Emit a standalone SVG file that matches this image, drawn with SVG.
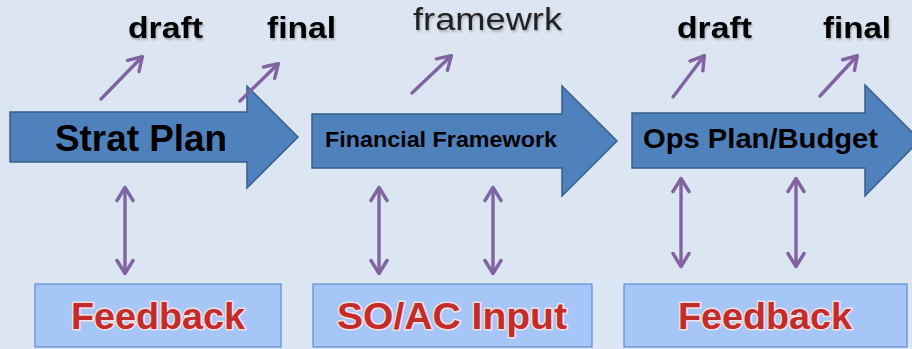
<svg xmlns="http://www.w3.org/2000/svg" width="912" height="349" viewBox="0 0 912 349">
<defs>
<marker id="oa" viewBox="0 0 20 20" refX="15.5" refY="10" markerWidth="20" markerHeight="20" markerUnits="userSpaceOnUse" orient="auto-start-reverse">
<polyline points="3,2 16,10 3,18" fill="none" stroke="#8064a2" stroke-width="3.4" stroke-linecap="round" stroke-linejoin="round"/>
</marker>
<filter id="sh" x="-10%" y="-20%" width="120%" height="140%">
<feGaussianBlur in="SourceAlpha" stdDeviation="1.2"/>
<feOffset dx="1" dy="1.5" result="b"/>
<feFlood flood-color="#000" flood-opacity="0.25"/>
<feComposite in2="b" operator="in"/>
<feMerge><feMergeNode/><feMergeNode in="SourceGraphic"/></feMerge>
</filter>
</defs>
<style>
.bg{fill:#dce6f2}
.stage{fill:#4f81bd;stroke:#385d8a;stroke-width:1.5}
.box{fill:#a6c6f8;stroke:#5b8fd0;stroke-width:1.2}
.lbl{font-family:"Liberation Sans",Arial,sans-serif;font-weight:bold;fill:#000}
.out{font-family:"Liberation Sans",Arial,sans-serif;font-weight:bold;fill:#000;font-size:30px}
.fw{font-family:"Liberation Sans",Arial,sans-serif;font-weight:normal;fill:#222;font-size:31px}
.red{font-family:"Liberation Sans",Arial,sans-serif;font-weight:bold;font-size:37.7px;fill:#c42b2b;stroke:#f3e2e2;stroke-width:3;paint-order:stroke;stroke-linejoin:round}
.conn{stroke:#8064a2;stroke-width:3.4;fill:none;stroke-linecap:round}
</style>
<rect class="bg" x="0" y="0" width="912" height="349"/>

<g id="strat-plan">
<polygon class="stage" points="10,112 247,112 247,86 298,137 247,188 247,162 10,162"/>
<text class="lbl" x="55" y="151" font-size="37" textLength="172" lengthAdjust="spacingAndGlyphs">Strat Plan</text>
</g>
<g id="financial-framework">
<polygon class="stage" points="312,114 562,114 562,86 617,141 562,196 562,168 312,168"/>
<text class="lbl" x="325" y="147" font-size="22" textLength="232" lengthAdjust="spacingAndGlyphs">Financial Framework</text>
</g>
<g id="ops-plan">
<polygon class="stage" points="632,113 865,113 865,85 920,140 865,196 865,168 632,168"/>
<text class="lbl" x="643" y="148" font-size="28" textLength="235" lengthAdjust="spacingAndGlyphs">Ops Plan/Budget</text>
</g>

<g id="out-draft-1"><text class="out" x="128" y="38" textLength="75" lengthAdjust="spacingAndGlyphs" filter="url(#sh)">draft</text></g>
<g id="out-final-1"><text class="out" x="267" y="38" textLength="69" lengthAdjust="spacingAndGlyphs" filter="url(#sh)">final</text></g>
<g id="out-framewrk"><text class="fw" x="413" y="30" textLength="149" lengthAdjust="spacingAndGlyphs" filter="url(#sh)">framewrk</text></g>
<g id="out-draft-2"><text class="out" x="677" y="38" textLength="75" lengthAdjust="spacingAndGlyphs" filter="url(#sh)">draft</text></g>
<g id="out-final-2"><text class="out" x="823" y="38" textLength="68" lengthAdjust="spacingAndGlyphs" filter="url(#sh)">final</text></g>

<g id="feedback-1">
<rect class="box" x="35" y="284" width="246" height="63"/>
<text class="red" x="71" y="329" textLength="174" lengthAdjust="spacingAndGlyphs">Feedback</text>
</g>
<g id="so-ac-input">
<rect class="box" x="313" y="284" width="279" height="63"/>
<text class="red" x="337" y="329" textLength="230" lengthAdjust="spacingAndGlyphs">SO/AC Input</text>
</g>
<g id="feedback-2">
<rect class="box" x="624" y="284" width="283" height="63"/>
<text class="red" x="678" y="329" textLength="174" lengthAdjust="spacingAndGlyphs">Feedback</text>
</g>

<g id="connectors">
<line class="conn" x1="101" y1="99" x2="142" y2="57" marker-end="url(#oa)"/>
<line class="conn" x1="240" y1="101" x2="278" y2="64" marker-end="url(#oa)"/>
<line class="conn" x1="412" y1="93" x2="451" y2="56" marker-end="url(#oa)"/>
<line class="conn" x1="673" y1="97" x2="704" y2="56" marker-end="url(#oa)"/>
<line class="conn" x1="820" y1="96" x2="857" y2="56" marker-end="url(#oa)"/>
<line class="conn" x1="125" y1="188" x2="125" y2="273" marker-start="url(#oa)" marker-end="url(#oa)"/>
<line class="conn" x1="379" y1="188" x2="379" y2="273" marker-start="url(#oa)" marker-end="url(#oa)"/>
<line class="conn" x1="493" y1="188" x2="493" y2="273" marker-start="url(#oa)" marker-end="url(#oa)"/>
<line class="conn" x1="681" y1="179" x2="681" y2="266" marker-start="url(#oa)" marker-end="url(#oa)"/>
<line class="conn" x1="796" y1="179" x2="796" y2="266" marker-start="url(#oa)" marker-end="url(#oa)"/>
</g>
</svg>
